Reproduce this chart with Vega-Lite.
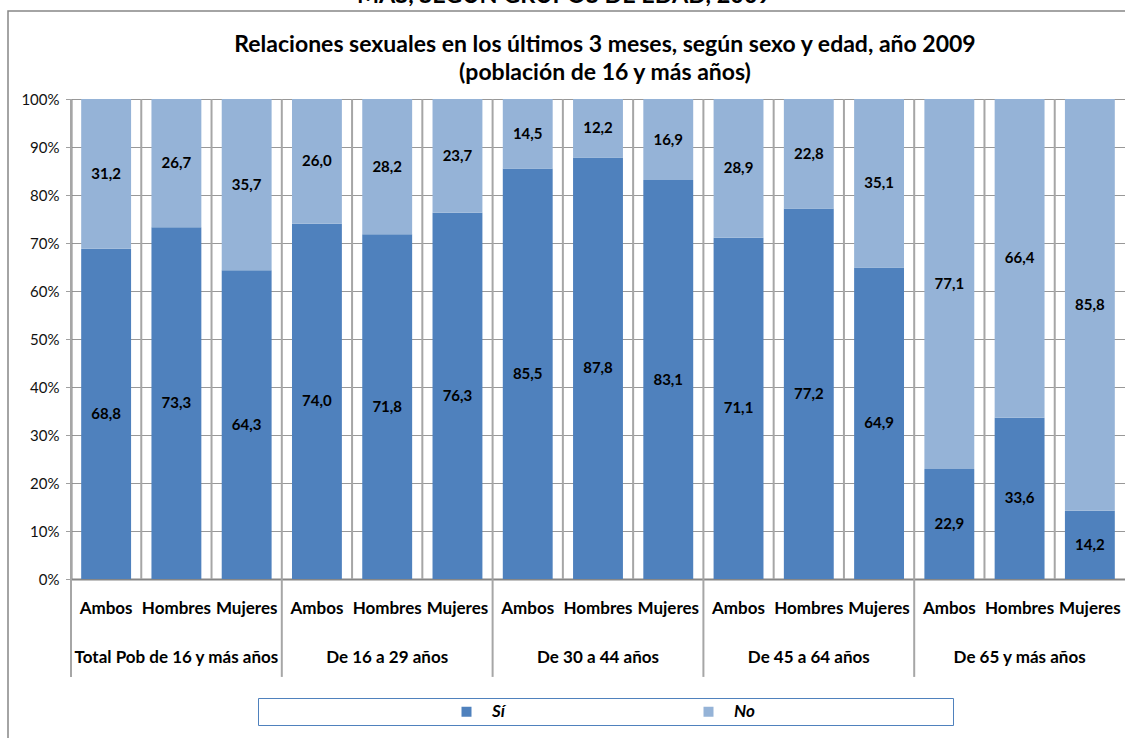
{
  "$schema": "https://vega.github.io/schema/vega-lite/v6.json",
  "autosize": "none",
  "width": 1054,
  "height": 480,
  "padding": {"left": 71, "top": 99, "right": 0, "bottom": 159},
  "background": "#ffffff",
  "config": {
    "locale": {"number": {"decimal": ",", "thousands": ".", "grouping": [3], "currency": ["", " €"]}},
    "view": {"stroke": null},
    "font": "Lato"
  },
  "data": {
    "values": [
      {"group": "Total Pob de 16 y más años", "sex": "Ambos", "key": "Total Pob de 16 y más años|Ambos", "resp": "Sí", "value": 68.8},
      {"group": "Total Pob de 16 y más años", "sex": "Ambos", "key": "Total Pob de 16 y más años|Ambos", "resp": "No", "value": 31.2},
      {"group": "Total Pob de 16 y más años", "sex": "Hombres", "key": "Total Pob de 16 y más años|Hombres", "resp": "Sí", "value": 73.3},
      {"group": "Total Pob de 16 y más años", "sex": "Hombres", "key": "Total Pob de 16 y más años|Hombres", "resp": "No", "value": 26.7},
      {"group": "Total Pob de 16 y más años", "sex": "Mujeres", "key": "Total Pob de 16 y más años|Mujeres", "resp": "Sí", "value": 64.3},
      {"group": "Total Pob de 16 y más años", "sex": "Mujeres", "key": "Total Pob de 16 y más años|Mujeres", "resp": "No", "value": 35.7},
      {"group": "De 16 a 29 años", "sex": "Ambos", "key": "De 16 a 29 años|Ambos", "resp": "Sí", "value": 74.0},
      {"group": "De 16 a 29 años", "sex": "Ambos", "key": "De 16 a 29 años|Ambos", "resp": "No", "value": 26.0},
      {"group": "De 16 a 29 años", "sex": "Hombres", "key": "De 16 a 29 años|Hombres", "resp": "Sí", "value": 71.8},
      {"group": "De 16 a 29 años", "sex": "Hombres", "key": "De 16 a 29 años|Hombres", "resp": "No", "value": 28.2},
      {"group": "De 16 a 29 años", "sex": "Mujeres", "key": "De 16 a 29 años|Mujeres", "resp": "Sí", "value": 76.3},
      {"group": "De 16 a 29 años", "sex": "Mujeres", "key": "De 16 a 29 años|Mujeres", "resp": "No", "value": 23.7},
      {"group": "De 30 a 44 años", "sex": "Ambos", "key": "De 30 a 44 años|Ambos", "resp": "Sí", "value": 85.5},
      {"group": "De 30 a 44 años", "sex": "Ambos", "key": "De 30 a 44 años|Ambos", "resp": "No", "value": 14.5},
      {"group": "De 30 a 44 años", "sex": "Hombres", "key": "De 30 a 44 años|Hombres", "resp": "Sí", "value": 87.8},
      {"group": "De 30 a 44 años", "sex": "Hombres", "key": "De 30 a 44 años|Hombres", "resp": "No", "value": 12.2},
      {"group": "De 30 a 44 años", "sex": "Mujeres", "key": "De 30 a 44 años|Mujeres", "resp": "Sí", "value": 83.1},
      {"group": "De 30 a 44 años", "sex": "Mujeres", "key": "De 30 a 44 años|Mujeres", "resp": "No", "value": 16.9},
      {"group": "De 45 a 64 años", "sex": "Ambos", "key": "De 45 a 64 años|Ambos", "resp": "Sí", "value": 71.1},
      {"group": "De 45 a 64 años", "sex": "Ambos", "key": "De 45 a 64 años|Ambos", "resp": "No", "value": 28.9},
      {"group": "De 45 a 64 años", "sex": "Hombres", "key": "De 45 a 64 años|Hombres", "resp": "Sí", "value": 77.2},
      {"group": "De 45 a 64 años", "sex": "Hombres", "key": "De 45 a 64 años|Hombres", "resp": "No", "value": 22.8},
      {"group": "De 45 a 64 años", "sex": "Mujeres", "key": "De 45 a 64 años|Mujeres", "resp": "Sí", "value": 64.9},
      {"group": "De 45 a 64 años", "sex": "Mujeres", "key": "De 45 a 64 años|Mujeres", "resp": "No", "value": 35.1},
      {"group": "De 65 y más años", "sex": "Ambos", "key": "De 65 y más años|Ambos", "resp": "Sí", "value": 22.9},
      {"group": "De 65 y más años", "sex": "Ambos", "key": "De 65 y más años|Ambos", "resp": "No", "value": 77.1},
      {"group": "De 65 y más años", "sex": "Hombres", "key": "De 65 y más años|Hombres", "resp": "Sí", "value": 33.6},
      {"group": "De 65 y más años", "sex": "Hombres", "key": "De 65 y más años|Hombres", "resp": "No", "value": 66.4},
      {"group": "De 65 y más años", "sex": "Mujeres", "key": "De 65 y más años|Mujeres", "resp": "Sí", "value": 14.2},
      {"group": "De 65 y más años", "sex": "Mujeres", "key": "De 65 y más años|Mujeres", "resp": "No", "value": 85.8}
    ]
  },
  "encoding": {
    "x": {
      "field": "key",
      "type": "nominal",
      "sort": null,
      "scale": {"paddingInner": 0, "paddingOuter": 0},
      "axis": {
        "title": null,
        "labelExpr": "split(datum.value, '|')[1]",
        "labelAngle": 0,
        "labelFont": "Lato",
        "labelFontSize": 17,
        "labelFontWeight": "bold",
        "labelColor": "#000000",
        "labelPadding": 29,
        "labelBaseline": "middle",
        "ticks": false,
        "grid": false,
        "domainColor": "#868686",
        "domainWidth": 2
      }
    }
  },
  "layer": [
    {
      "data": {"values": [{}]},
      "mark": {"type": "rect", "fill": null, "stroke": "#868686", "strokeWidth": 1.5, "clip": false},
      "encoding": {
        "x": {"value": -63},
        "x2": {"value": 1300},
        "y": {"value": -88},
        "y2": {"value": 900}
      }
    },
    {
      "mark": {"type": "bar", "width": {"band": 0.71}},
      "encoding": {
        "y": {
          "field": "value",
          "type": "quantitative",
          "stack": "zero",
          "scale": {"domain": [0, 100], "nice": false},
          "axis": {
            "title": null,
            "values": [0, 10, 20, 30, 40, 50, 60, 70, 80, 90, 100],
            "labelExpr": "datum.value + '%'",
            "labelFont": "Lato",
            "labelFontSize": 15,
            "labelColor": "#111111",
            "labelPadding": 7,
            "tickSize": 5,
            "tickColor": "#404040",
            "tickDash": [1, 1],
            "grid": true,
            "gridColor": "#303030",
            "gridDash": [1, 1],
            "gridWidth": 1,
            "domainColor": "#868686",
            "domainWidth": 2
          }
        },
        "color": {
          "field": "resp",
          "type": "nominal",
          "scale": {"domain": ["Sí", "No"], "range": ["#4F81BD", "#95B3D7"]},
          "legend": {
            "orient": "none",
            "legendX": 187,
            "legendY": 599,
            "direction": "horizontal",
            "title": "\u00a0",
            "titleOrient": "right",
            "titlePadding": 193,
            "strokeColor": "#4F81BD",
            "padding": 5,
            "symbolType": "square",
            "symbolSize": 100,
            "symbolOffset": 195,
            "symbolStrokeWidth": 0,
            "labelOffset": 17,
            "labelFont": "Lato",
            "labelFontSize": 17,
            "labelFontWeight": "bold",
            "labelFontStyle": "italic",
            "labelColor": "#000000",
            "columnPadding": -4
          }
        },
        "order": {"field": "resp", "sort": "descending"}
      }
    },
    {
      "mark": {"type": "text", "font": "Lato", "fontSize": 15, "fontWeight": "bold", "color": "#000000", "baseline": "middle"},
      "encoding": {
        "y": {"field": "value", "type": "quantitative", "stack": "zero", "bandPosition": 0.5},
        "detail": {"field": "resp"},
        "order": {"field": "resp", "sort": "descending"},
        "text": {"field": "value", "type": "quantitative", "format": ".1f"}
      }
    },
    {
      "transform": [{"filter": "datum.resp == 'Sí'"}],
      "mark": {"type": "rule", "color": "#A6A6A6", "strokeWidth": 2},
      "encoding": {
        "x": {"field": "key", "type": "nominal", "sort": null, "bandPosition": 0},
        "y": {"datum": 100},
        "y2": {"datum": 0}
      }
    },
    {
      "transform": [{"filter": "datum.resp == 'Sí' && datum.sex == 'Ambos'"}],
      "mark": {"type": "rule", "color": "#A6A6A6", "strokeWidth": 2, "clip": false},
      "encoding": {
        "x": {"field": "key", "type": "nominal", "sort": null, "bandPosition": 0},
        "y": {"datum": 0},
        "y2": {"datum": -20.4}
      }
    },
    {
      "transform": [{"filter": "datum.resp == 'Sí' && datum.sex == 'Hombres'"}],
      "mark": {"type": "text", "font": "Lato", "fontSize": 17, "fontWeight": "bold", "color": "#000000", "baseline": "middle", "clip": false},
      "encoding": {
        "y": {"datum": -16.5},
        "text": {"field": "group"}
      }
    },
    {
      "data": {"values": [{"line": "MÁS, SEGÚN GRUPOS DE EDAD, 2009"}]},
      "mark": {"type": "text", "font": "Lato", "fontSize": 23.4, "fontWeight": "bold", "color": "#000000", "baseline": "alphabetic", "dx": -34, "clip": false},
      "encoding": {
        "x": {"datum": "De 30 a 44 años|Hombres"},
        "y": {"datum": 120},
        "text": {"field": "line"}
      }
    },
    {
      "data": {"values": [{"line": "Relaciones sexuales en los últimos 3 meses, según sexo y edad, año 2009"}]},
      "mark": {"type": "text", "font": "Lato", "fontSize": 23, "fontWeight": "bold", "color": "#000000", "baseline": "middle", "dx": 7, "clip": false},
      "encoding": {
        "x": {"datum": "De 30 a 44 años|Hombres"},
        "y": {"datum": 111.25},
        "text": {"field": "line"}
      }
    },
    {
      "data": {"values": [{"line": "(población de 16 y más años)"}]},
      "mark": {"type": "text", "font": "Lato", "fontSize": 23, "fontWeight": "bold", "color": "#000000", "baseline": "middle", "dx": 7, "clip": false},
      "encoding": {
        "x": {"datum": "De 30 a 44 años|Hombres"},
        "y": {"datum": 105.4},
        "text": {"field": "line"}
      }
    }
  ]
}
